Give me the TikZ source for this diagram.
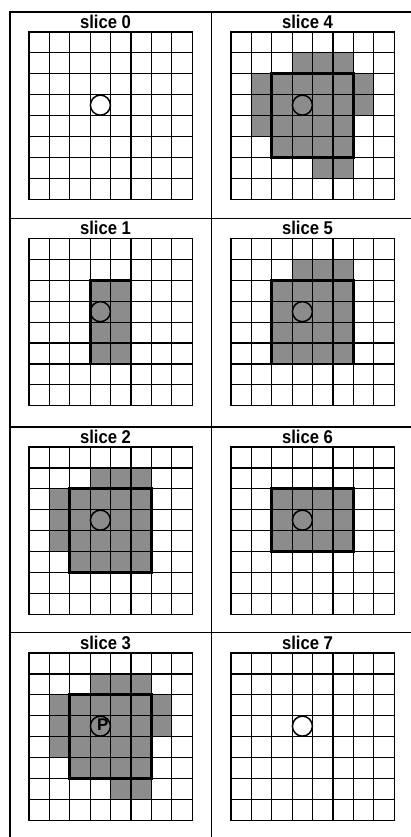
\documentclass[tikz,border=0pt]{standalone}
\usepackage{fontspec}
\newfontfamily\labelfont{Liberation Sans}
\newcommand{\slicegrid}{%
  \foreach \i in {0,...,8}
    \draw[cellgrid] (\i,0) -- (\i,8) (0,\i) -- (8,\i);}

\begin{document}
\begin{tikzpicture}[
  x=1pt, y=-1pt,
  frame/.style={line width=1.3pt},
  cellgrid/.style={line width=1.2pt, line cap=rect},
  shaded/.style={fill=black!45},
  core/.style={line width=2.8pt, line join=miter},
  hole/.style={circle, draw, line width=1.5pt, minimum size=20pt, inner sep=0pt},
  title/.style={anchor=base, inner sep=0pt,
                font=\labelfont\bfseries\fontsize{18.5pt}{18.5pt}\selectfont},
  panel/.style={x=20.4pt, y=-20.9pt}
]
\useasboundingbox (0,0) rectangle (411,837);

% frame
\draw[frame] (10,837) -- (10,12) -- (411,12);
\draw[frame] (211.5,12) -- (211.5,837);
\foreach \y in {218.5,427,632.5}
  \draw[frame] (10,\y) -- (411,\y);

% slice 0
\begin{scope}[shift={(29,32)}, panel]
  \slicegrid
  \node[hole] (c0) at (3.5,3.5) {};
  \node[title] (s0) at (3.75,-0.18) {\scalebox{0.9}[1]{slice 0}};
\end{scope}

% slice 1
\begin{scope}[shift={(29,238.5)}, panel]
  \fill[shaded] (3,2) rectangle (5,6);
  \slicegrid
  \draw[core] (3,2) rectangle (5,6);
  \node[hole] (c1) at (3.5,3.5) {};
  \node[title] (s1) at (3.75,-0.18) {\scalebox{0.9}[1]{slice 1}};
\end{scope}

% slice 2
\begin{scope}[shift={(29,447)}, panel]
  \foreach \a/\b/\c/\d in {3/1/6/2, 1/2/6/5, 2/5/6/6}
    \fill[shaded] (\a,\b) rectangle (\c,\d);
  \slicegrid
  \draw[core] (2,2) rectangle (6,6);
  \node[hole] (c2) at (3.5,3.5) {};
  \node[title] (s2) at (3.75,-0.18) {\scalebox{0.9}[1]{slice 2}};
\end{scope}

% slice 3
\begin{scope}[shift={(29,653)}, panel]
  \foreach \a/\b/\c/\d in {3/1/6/2, 1/2/7/4, 1/4/6/5, 2/5/6/6, 4/6/6/7}
    \fill[shaded] (\a,\b) rectangle (\c,\d);
  \slicegrid
  \draw[core] (2,2) rectangle (6,6);
  \node[hole] (c3) at (3.5,3.5) {};
  \node[font=\labelfont\bfseries\fontsize{17pt}{17pt}\selectfont, inner sep=0pt]
    (p3) at (3.62,3.45) {P};
  \node[title] (s3) at (3.75,-0.18) {\scalebox{0.9}[1]{slice 3}};
\end{scope}

% slice 4
\begin{scope}[shift={(231,32)}, panel]
  \foreach \a/\b/\c/\d in {3/1/6/2, 1/2/7/4, 1/4/6/5, 2/5/6/6, 4/6/6/7}
    \fill[shaded] (\a,\b) rectangle (\c,\d);
  \slicegrid
  \draw[core] (2,2) rectangle (6,6);
  \node[hole] (c4) at (3.5,3.5) {};
  \node[title] (s4) at (3.75,-0.18) {\scalebox{0.9}[1]{slice 4}};
\end{scope}

% slice 5
\begin{scope}[shift={(231,238.5)}, panel]
  \foreach \a/\b/\c/\d in {3/1/6/2, 2/2/6/6}
    \fill[shaded] (\a,\b) rectangle (\c,\d);
  \slicegrid
  \draw[core] (2,2) rectangle (6,6);
  \node[hole] (c5) at (3.5,3.5) {};
  \node[title] (s5) at (3.75,-0.18) {\scalebox{0.9}[1]{slice 5}};
\end{scope}

% slice 6
\begin{scope}[shift={(231,447)}, panel]
  \fill[shaded] (2,2) rectangle (6,5);
  \slicegrid
  \draw[core] (2,2) rectangle (6,5);
  \node[hole] (c6) at (3.5,3.5) {};
  \node[title] (s6) at (3.75,-0.18) {\scalebox{0.9}[1]{slice 6}};
\end{scope}

% slice 7
\begin{scope}[shift={(231,653)}, panel]
  \slicegrid
  \node[hole] (c7) at (3.5,3.5) {};
  \node[title] (s7) at (3.75,-0.18) {\scalebox{0.9}[1]{slice 7}};
\end{scope}
\end{tikzpicture}
\end{document}
